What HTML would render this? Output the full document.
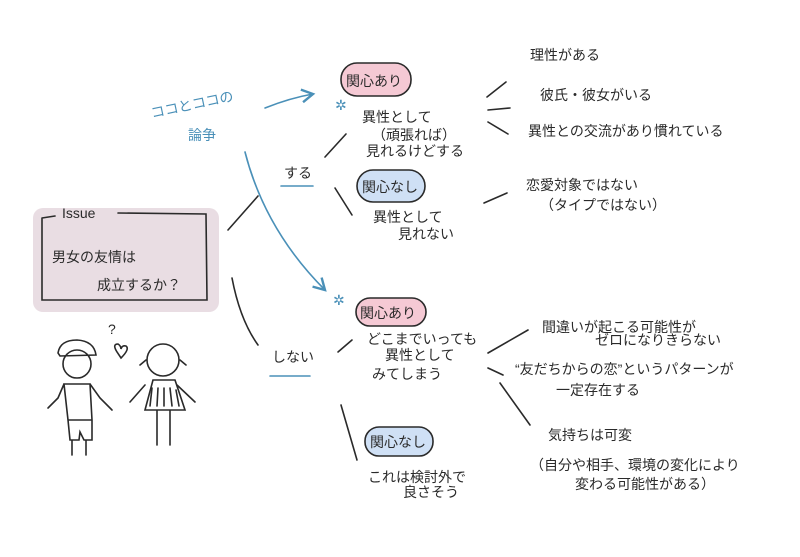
<!DOCTYPE html>
<html><head><meta charset="utf-8"><style>
html,body{margin:0;padding:0;background:#fff}
svg{display:block}
text{font-family:"Liberation Sans","Noto Sans CJK JP",sans-serif;fill:#2a2a2a;font-size:14px}
.b{fill:#4a90b8}
</style></head><body>
<svg width="800" height="557" viewBox="0 0 800 557" xmlns="http://www.w3.org/2000/svg">
<defs><marker id="ah" markerWidth="10" markerHeight="10" refX="8" refY="5" orient="auto"><path d="M1,1 L8,5 L1,9" fill="none" stroke="#4a90b8" stroke-width="1.5"/></marker></defs>
<g fill="none" stroke="#2a2a2a" stroke-width="1.6" stroke-linecap="round">
<rect x="33" y="208" width="186" height="104" rx="10" fill="#e9dde3" stroke="none"/>
<path d="M42,218 L42,300 L207,300 L206,214 L118,213 M42,218 L55,216"/>
<path d="M228,230 L258,196"/>
<path d="M232,278 Q240,320 258,345"/>
<path d="M325,157 L346,134"/>
<path d="M335,188 L352,215"/>
<path d="M487,97 L506,82 M488,110 L510,108 M488,122 L508,134"/>
<path d="M484,203 L507,193"/>
<path d="M338,352 L352,340"/>
<path d="M341,405 L357,460"/>
<path d="M488,353 L528,330 M488,368 L503,375 M500,383 L530,425"/>
<rect x="341" y="63" width="70" height="33" rx="16" fill="#f5c9d4"/>
<rect x="357" y="170" width="68" height="32" rx="16" fill="#cfe0f5"/>
<rect x="356" y="298" width="70" height="28" rx="14" fill="#f5c9d4"/>
<rect x="365" y="427" width="68" height="29" rx="14" fill="#cfe0f5"/>
<path d="M58,353 Q60,340 77,340 Q94,341 96,355 L60,356 Z"/>
<circle cx="77" cy="364" r="14" fill="none"/>
<path d="M64,384 L58,398 L48,408 M90,384 L100,398 L112,410 M64,384 L90,384 L92,420 L68,420 Z M68,420 L70,440 L79,440 L80,432 L84,440 L92,440 L92,420 M72,440 L72,455 M86,440 L86,455"/>
<circle cx="163" cy="360" r="16" fill="none"/>
<path d="M146,360 L140,365 M180,360 L186,365 M153,380 L145,410 L185,410 L175,380 Z M145,385 L130,402 M177,385 L195,402 M157,410 L157,445 M170,410 L170,445"/>
<path d="M152,388 L150,406 M158,388 L157,406 M164,388 L164,406 M170,388 L172,406 M176,390 L179,406"/>
<path d="M117,352 Q112,344 118,344 Q121,346 121,349 Q122,345 126,346 Q130,349 121,358 Z"/>
</g>
<g fill="none" stroke="#4a90b8" stroke-width="1.6" stroke-linecap="round">
<path d="M265,108 Q290,98 313,94" marker-end="url(#ah)"/>
<path d="M245,152 Q265,230 325,290" marker-end="url(#ah)"/>
<path d="M281,186 L313,186"/>
<path d="M270,376 L310,376"/>
</g>
<text x="335" y="110" class="b" font-size="14">✲</text>
<text x="333" y="305" class="b" font-size="14">✲</text>
<text x="152" y="118" class="b" transform="rotate(-12 152 118)">ココとココの</text>
<text x="188" y="140" class="b">論争</text>
<text x="62" y="218" font-size="14">Issue</text>
<text x="52" y="262" font-size="18">男女の友情は</text>
<text x="97" y="290" font-size="18">成立するか？</text>
<text x="108" y="334" font-size="15">?</text>
<text x="284" y="178">する</text>
<text x="272" y="362">しない</text>
<text x="346" y="86" font-size="13">関心あり</text>
<text x="362" y="192" font-size="13">関心なし</text>
<text x="360" y="318" font-size="13">関心あり</text>
<text x="370" y="447" font-size="13">関心なし</text>
<text x="362" y="122">異性として</text>
<text x="372" y="140">（頑張れば）</text>
<text x="366" y="156">見れるけどする</text>
<text x="373" y="222">異性として</text>
<text x="398" y="239">見れない</text>
<text x="367" y="344">どこまでいっても</text>
<text x="385" y="360">異性として</text>
<text x="372" y="379">みてしまう</text>
<text x="368" y="482">これは検討外で</text>
<text x="403" y="497">良さそう</text>
<text x="530" y="60">理性がある</text>
<text x="540" y="100">彼氏・彼女がいる</text>
<text x="528" y="136">異性との交流があり慣れている</text>
<text x="526" y="190">恋愛対象ではない</text>
<text x="540" y="210">（タイプではない）</text>
<text x="542" y="332">間違いが起こる可能性が</text>
<text x="595" y="345">ゼロになりきらない</text>
<text x="515" y="374">“友だちからの恋”というパターンが</text>
<text x="556" y="395">一定存在する</text>
<text x="548" y="440">気持ちは可変</text>
<text x="530" y="470">（自分や相手、環境の変化により</text>
<text x="575" y="489">変わる可能性がある）</text>
</svg>
</body></html>
